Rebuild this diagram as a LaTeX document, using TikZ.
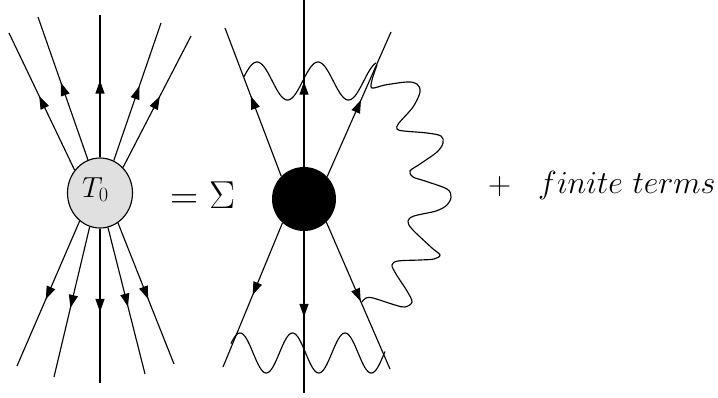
\RequirePackage{fix-cm}
\documentclass[tikz,border=0pt]{standalone}
\usetikzlibrary{arrows.meta,decorations.markings,shapes.geometric}
\definecolor{blobgray}{RGB}{224,224,224}
\tikzset{
  fermion/.style={line width=1.15pt, postaction={decorate},
    decoration={markings, mark=at position #1 with {\arrow{Triangle[length=13pt,width=9pt]}}}},
  fermion/.default=0.54,
  photon/.style={line width=1.15pt},
  lbl/.style={anchor=base west, inner sep=0pt},
}
\begin{document}
\begin{tikzpicture}[x=1pt,y=-1pt]
\useasboundingbox (0,0) rectangle (718,397);
% ---------- left vertex ----------
\node[ellipse, draw, line width=1.15pt, fill=blobgray, minimum width=65pt, minimum height=70pt, inner sep=0pt] (T) at (100,193) {};
\node[lbl, font=\fontsize{29}{35}\selectfont] (t0) at (82,197) {$T_0$};
\coordinate (u1) at (9,33);
\coordinate (u2) at (38,17);
\coordinate (u3) at (100,15);
\coordinate (u4) at (161,23);
\coordinate (u5) at (191,36);
\coordinate (d1) at (17,366);
\coordinate (d2) at (54,377);
\coordinate (d3) at (100,383);
\coordinate (d4) at (145,374);
\coordinate (d5) at (174,364);
\draw[fermion] (T.138) -- (u1);
\draw[fermion] (T.110) -- (u2);
\draw[fermion] (T.90) -- (u3);
\draw[fermion] (T.67) -- (u4);
\draw[fermion] (T.48) -- (u5);
\draw[fermion] (T.234) -- (d1);
\draw[fermion] (T.253) -- (d2);
\draw[fermion] (T.270) -- (d3);
\draw[fermion] (T.283) -- (d4);
\draw[fermion] (T.301) -- (d5);
% ---------- texts ----------
\node[lbl, font=\fontsize{39}{47}\selectfont] (eq) at (170,208) {$=\Sigma$};
\node[lbl, font=\fontsize{32}{38}\selectfont] (plus) at (488,194) {$+$};
\node[lbl, font=\fontsize{32}{38}\selectfont] (ft) at (538,193) {$finite\ terms$};
% ---------- right diagram ----------
\node[circle, fill=black, minimum size=64pt, inner sep=0pt] (B) at (304,199) {};
\coordinate (vt) at (304,0);
\coordinate (vb) at (304,393);
\coordinate (tl) at (225,28);
\coordinate (tr) at (391,32);
\coordinate (bl) at (223,367);
\coordinate (br) at (390,369);
\draw[fermion=0.51] (B.90) -- (vt);
\draw[fermion=0.53] (B.270) -- (vb);
\draw[fermion] (B.135) -- (tl);
\draw[fermion=0.53] (B.44) -- (tr);
\draw[fermion=0.50] (B.228) -- (bl);
\draw[fermion] (B.314) -- (br);
% photons
\draw[photon] plot[domain=244:376, samples=150] (\x,{81-19*cos(5.9016*(\x-257))});
\draw[photon] plot[domain=231:385, samples=150] (\x,{353-20*cos(6.8571*(\x-240))});
\draw[photon] plot[smooth, tension=0.55] coordinates {(377,65) (372,80) (372,88) (385,85) (407,82) (417,84) (420,92) (413,107) (399,123) (397,129) (404,131) (427,133) (441,136) (443,143) (437,152) (420,164) (410,171) (413,177) (425,181) (447,189) (451,197) (447,205) (436,211) (414,216) (408,221) (412,229) (432,248) (440,255) (434,259) (420,260) (398,261) (392,265) (396,274) (407,291) (412,302) (405,307) (395,305) (373,298) (366,298) (362,302)};
\end{tikzpicture}
\end{document}
